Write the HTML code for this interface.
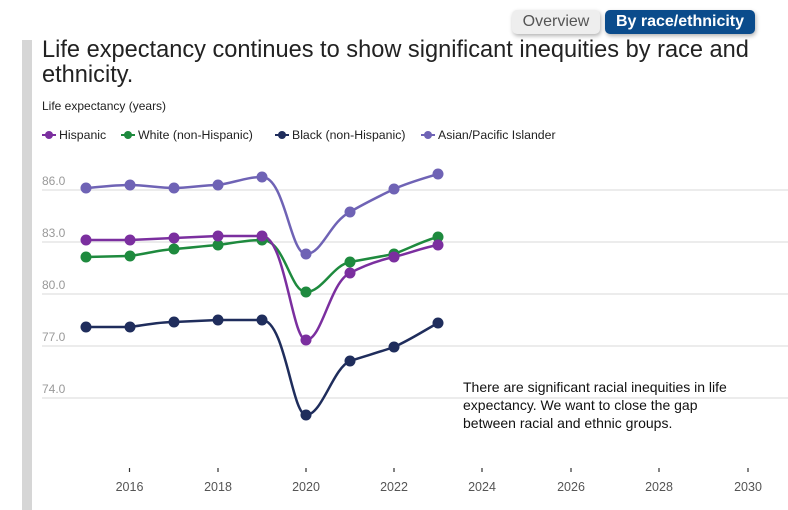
<!DOCTYPE html>
<html><head><style>
body{margin:0;width:788px;height:510px;background:#fff;font-family:"Liberation Sans",sans-serif;overflow:hidden;position:relative}
.btn{position:absolute;top:10px;height:24px;line-height:24px;border-radius:5px;font-size:16px;padding:0 7px;box-shadow:1px 2px 4px rgba(0,0,0,.3)}
</style></head><body>
<div class="btn" style="left:512px;width:74px;background:#eee;color:#555;text-align:center">Overview</div>
<div class="btn" style="left:605px;width:136px;background:#0b4c8c;color:#fff;font-weight:bold;text-align:center">By race/ethnicity</div>
<div style="position:absolute;left:22px;top:40px;width:10px;height:470px;background:#d6d6d6"></div>
<div style="position:absolute;left:42px;top:38px;font-size:23.6px;line-height:25px;color:#222;width:740px">Life expectancy continues to show significant inequities by race and ethnicity.</div>
<svg width="788" height="510" style="position:absolute;left:0;top:0" font-family="Liberation Sans, sans-serif">
<text x="42" y="110" font-size="12" fill="#222">Life expectancy (years)</text>
<g font-size="12.3" fill="#222">
<line x1="42" y1="135" x2="56" y2="135" stroke="#7b2f9f" stroke-width="2"/><circle cx="49" cy="135" r="4" fill="#7b2f9f"/><text x="59" y="139">Hispanic</text>
<line x1="121" y1="135" x2="135" y2="135" stroke="#1e8a3e" stroke-width="2"/><circle cx="128" cy="135" r="4" fill="#1e8a3e"/><text x="138" y="139">White (non-Hispanic)</text>
<line x1="275" y1="135" x2="289" y2="135" stroke="#1f2d5c" stroke-width="2"/><circle cx="282" cy="135" r="4" fill="#1f2d5c"/><text x="292" y="139">Black (non-Hispanic)</text>
<line x1="421" y1="135" x2="435" y2="135" stroke="#6f63b5" stroke-width="2"/><circle cx="428" cy="135" r="4" fill="#6f63b5"/><text x="438" y="139">Asian/Pacific Islander</text>
</g>
<g stroke="#e6e6e6" stroke-width="1.5">
<line x1="42" y1="190" x2="788" y2="190"/><line x1="42" y1="242" x2="788" y2="242"/><line x1="42" y1="294" x2="788" y2="294"/><line x1="42" y1="346" x2="788" y2="346"/><line x1="42" y1="398" x2="788" y2="398"/>
</g>
<g font-size="12" fill="#999">
<text x="42" y="185">86.0</text><text x="42" y="237">83.0</text><text x="42" y="289">80.0</text><text x="42" y="341">77.0</text><text x="42" y="393">74.0</text>
</g>
<g stroke="#333" stroke-width="1.2">
<line x1="129.5" y1="468" x2="129.5" y2="472"/><line x1="218" y1="468" x2="218" y2="472"/><line x1="306" y1="468" x2="306" y2="472"/><line x1="394" y1="468" x2="394" y2="472"/><line x1="482" y1="468" x2="482" y2="472"/><line x1="571" y1="468" x2="571" y2="472"/><line x1="659" y1="468" x2="659" y2="472"/><line x1="748" y1="468" x2="748" y2="472"/>
</g>
<g font-size="12.5" fill="#555" text-anchor="middle">
<text x="129.5" y="491">2016</text><text x="218" y="491">2018</text><text x="306" y="491">2020</text><text x="394" y="491">2022</text><text x="482" y="491">2024</text><text x="571" y="491">2026</text><text x="659" y="491">2028</text><text x="748" y="491">2030</text>
</g>
<g fill="none" stroke-width="2.5">
<path stroke="#6f63b5" d="M86,188 C100,187 115,185 130,185 C145,185 159,188 174,188 C189,188 203,185 218,185 C233,183 247,177 262,177 C285,177 290,254 306,254 C322,254 330,222 350,212 C365,203 380,196 394,189 C410,182 425,178 438,174"/>
<path stroke="#1e8a3e" d="M86,257 L130,256 C145,254 159,250 174,249 C189,248 203,246 218,245 C233,243 247,240 262,240 C285,240 290,292 306,292 C322,292 333,265 350,262 L394,254 C410,248 425,240 438,237"/>
<path stroke="#7b2f9f" d="M86,240 L130,240 L174,238 L218,236 L262,236 C285,236 292,340 306,340 C322,340 330,282 350,273 C365,265 380,260 394,257 C410,253 425,247 438,245"/>
<path stroke="#1f2d5c" d="M86,327 L130,327 C145,325 159,322 174,322 L218,320 L262,320 C285,320 292,415 306,415 C322,415 333,368 350,361 C365,356 380,352 394,347 C410,340 425,330 438,323"/>
</g>
<g fill="#6f63b5"><circle cx="86" cy="188" r="5.5"/><circle cx="130" cy="185" r="5.5"/><circle cx="174" cy="188" r="5.5"/><circle cx="218" cy="185" r="5.5"/><circle cx="262" cy="177" r="5.5"/><circle cx="306" cy="254" r="5.5"/><circle cx="350" cy="212" r="5.5"/><circle cx="394" cy="189" r="5.5"/><circle cx="438" cy="174" r="5.5"/></g>
<g fill="#1e8a3e"><circle cx="86" cy="257" r="5.5"/><circle cx="130" cy="256" r="5.5"/><circle cx="174" cy="249" r="5.5"/><circle cx="218" cy="245" r="5.5"/><circle cx="262" cy="240" r="5.5"/><circle cx="306" cy="292" r="5.5"/><circle cx="350" cy="262" r="5.5"/><circle cx="394" cy="254" r="5.5"/><circle cx="438" cy="237" r="5.5"/></g>
<g fill="#7b2f9f"><circle cx="86" cy="240" r="5.5"/><circle cx="130" cy="240" r="5.5"/><circle cx="174" cy="238" r="5.5"/><circle cx="218" cy="236" r="5.5"/><circle cx="262" cy="236" r="5.5"/><circle cx="306" cy="340" r="5.5"/><circle cx="350" cy="273" r="5.5"/><circle cx="394" cy="257" r="5.5"/><circle cx="438" cy="245" r="5.5"/></g>
<g fill="#1f2d5c"><circle cx="86" cy="327" r="5.5"/><circle cx="130" cy="327" r="5.5"/><circle cx="174" cy="322" r="5.5"/><circle cx="218" cy="320" r="5.5"/><circle cx="262" cy="320" r="5.5"/><circle cx="306" cy="415" r="5.5"/><circle cx="350" cy="361" r="5.5"/><circle cx="394" cy="347" r="5.5"/><circle cx="438" cy="323" r="5.5"/></g>
<g font-size="14" fill="#111">
<text x="463" y="392">There are significant racial inequities in life</text>
<text x="463" y="410">expectancy. We want to close the gap</text>
<text x="463" y="428">between racial and ethnic groups.</text>
</g>
</svg>
</body></html>
